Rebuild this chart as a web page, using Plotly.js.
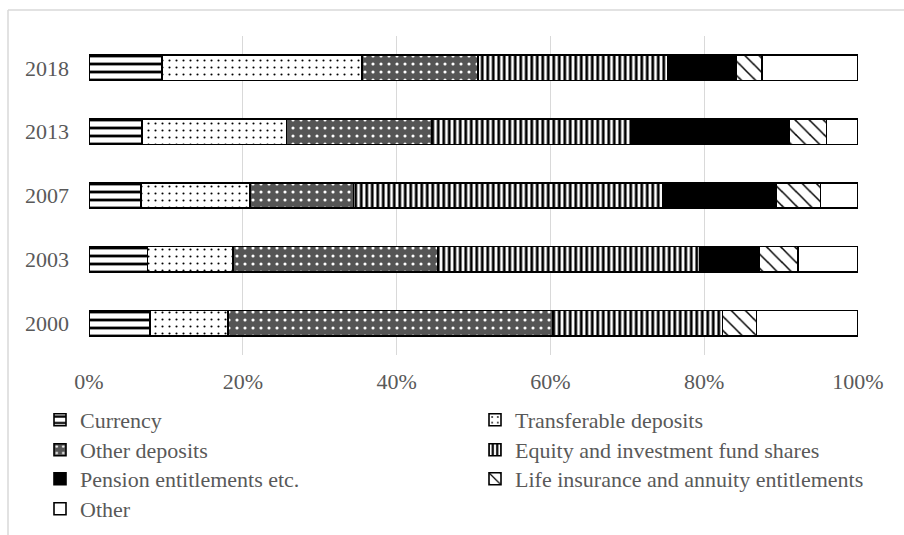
<!DOCTYPE html>
<html>
<head>
<meta charset="utf-8">
<script src="https://cdn.plot.ly/plotly-3.0.1.min.js"></script>
<style>html,body{margin:0;padding:0;background:#fff;}#chart{width:904px;height:535px;}</style>
</head>
<body>
<div id="chart"></div>
<script>
// Data (percent of total)
const years = ['2000', '2003', '2007', '2013', '2018'];
const currency = [7.9, 7.6, 6.8, 6.9, 9.5];
const transferable = [10.2, 11.1, 14.1, 18.8, 26.0];
const otherDeposits = [42.2, 26.6, 13.5, 18.9, 15.1];
const equity = [22.1, 34.1, 40.2, 26.0, 24.7];
const pension = [0, 7.8, 14.7, 20.5, 8.9];
const lifeInsurance = [4.4, 5.0, 5.8, 4.8, 3.3];
const otherAssets = [13.2, 7.8, 4.9, 4.1, 12.5];
const seriesNames = ['Currency', 'Transferable deposits', 'Other deposits',
  'Equity and investment fund shares', 'Pension entitlements etc.',
  'Life insurance and annuity entitlements', 'Other'];
const xTicks = [0, 20, 40, 60, 80, 100];

const W = 904, H = 535;
const M = {l: 89, r: 46, t: 36, b: 180, autoexpand: false};
const pw = W - M.l - M.r, ph = H - M.t - M.b;
const FONT = 'Liberation Serif';
const FS = 22;
const GREY = '#595959';

const styles = [
  {color: '#fff', pattern: {shape: '-', fgcolor: '#000', bgcolor: '#fff', size: 8, solidity: 0.35, fillmode: 'replace'}},
  {color: '#fff', pattern: {shape: '.', fgcolor: '#000', bgcolor: '#fff', size: 7, solidity: 0.07, fillmode: 'replace'}},
  {color: '#666', pattern: {shape: '.', fgcolor: '#fff', bgcolor: '#555555', size: 8, solidity: 0.12, fillmode: 'replace'}},
  {color: '#fff', pattern: {shape: '|', fgcolor: '#000', bgcolor: '#fff', size: 5.5, solidity: 0.5, fillmode: 'replace'}},
  {color: '#000'},
  {color: '#fff', pattern: {shape: '\\', fgcolor: '#000', bgcolor: '#fff', size: 10, solidity: 0.15, fillmode: 'replace'}},
  {color: '#fff'}
];
const values = [currency, transferable, otherDeposits, equity, pension, lifeInsurance, otherAssets];

// legend positions (container px): column x, row y
const legendPos = [[40, 420], [475, 420], [40, 450], [475, 450], [40, 479], [475, 479], [40, 509]];
const legendKeys = legendPos.map((p, i) => i === 0 ? 'legend' : 'legend' + (i + 1));

const traces = values.map((v, i) => {
  const marker = {color: styles[i].color, line: {color: '#000', width: 1.6}};
  if (styles[i].pattern) marker.pattern = styles[i].pattern;
  return {
    type: 'bar', orientation: 'h', name: seriesNames[i], x: v, y: years,
    marker: marker, width: 0.4, legend: legendKeys[i], showlegend: true,
    hoverinfo: 'name+x'
  };
});

const layout = {
  width: W, height: H, margin: M, barmode: 'stack', showlegend: true,
  paper_bgcolor: '#fff', plot_bgcolor: '#fff',
  font: {family: FONT, size: FS, color: GREY},
  xaxis: {
    range: [0, 100], tickvals: xTicks, ticktext: xTicks.map(t => t + '%'),
    showgrid: true, gridcolor: '#d9d9d9', gridwidth: 1.3, zeroline: false,
    showline: false, ticks: '', ticklabelstandoff: 11, fixedrange: true, tickangle: 0,
    automargin: false,
    tickfont: {family: FONT, size: FS, color: GREY}
  },
  yaxis: {
    type: 'category', categoryorder: 'array', categoryarray: years,
    range: [-0.5, 4.5], showgrid: false, zeroline: false, showline: false,
    ticks: '', ticklabelstandoff: 19, fixedrange: true, automargin: false,
    tickfont: {family: FONT, size: FS, color: GREY}
  },
  shapes: [
    {type: 'line', xref: 'paper', yref: 'paper', x0: (8 - M.l) / pw, x1: (W + 5 - M.l) / pw,
     y0: (H - M.b - 10) / ph, y1: (H - M.b - 10) / ph, line: {color: '#d9d9d9', width: 1.5}, layer: 'below'},
    {type: 'line', xref: 'paper', yref: 'paper', x0: (8 - M.l) / pw, x1: (8 - M.l) / pw,
     y0: (H - M.b - 10) / ph, y1: -2, line: {color: '#d9d9d9', width: 1.5}, layer: 'below'}
  ]
};
legendPos.forEach((p, i) => {
  layout[legendKeys[i]] = {
    xref: 'container', yref: 'container', x: p[0] / W, y: 1 - p[1] / H,
    xanchor: 'left', yanchor: 'middle', orientation: 'v', visible: true,
    bgcolor: 'rgba(0,0,0,0)', borderwidth: 0,
    font: {family: FONT, size: FS, color: GREY}
  };
});

Plotly.newPlot('chart', traces, layout, {displayModeBar: false, staticPlot: true});
</script>
</body>
</html>
